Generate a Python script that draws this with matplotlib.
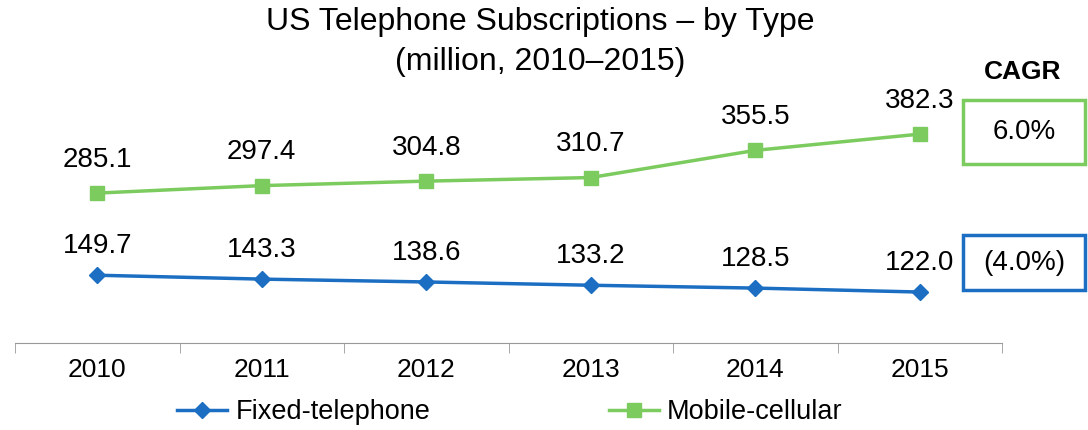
import matplotlib.pyplot as plt
from matplotlib.patches import Rectangle
from matplotlib.lines import Line2D

plt.rcParams['font.family'] = ['Liberation Sans', 'DejaVu Sans']

years = ['2010', '2011', '2012', '2013', '2014', '2015']
fixed = [149.7, 143.3, 138.6, 133.2, 128.5, 122.0]
mobile = [285.1, 297.4, 304.8, 310.7, 355.5, 382.3]
cagr_fixed = '(4.0%)'
cagr_mobile = '6.0%'

blue = '#1B6EC2'
green = '#7CCB5F'

fig = plt.figure(figsize=(10.88, 4.3), dpi=100)
ax = fig.add_axes([15 / 1088, 87 / 430, 987 / 1088, 253 / 430])

x = list(range(len(years)))
ax.plot(x, fixed, color=blue, lw=2.5, marker='D', markersize=8, zorder=3)
ax.plot(x, mobile, color=green, lw=2.5, marker='s', markersize=10, zorder=3)

for i in x:
    ax.annotate(f'{fixed[i]:.1f}', (i, fixed[i]), xytext=(0, 16), textcoords='offset points',
                ha='center', va='baseline', fontsize=20)
    ax.annotate(f'{mobile[i]:.1f}', (i, mobile[i]), xytext=(0, 19), textcoords='offset points',
                ha='center', va='baseline', fontsize=20)

ax.set_xlim(-0.5, len(years) - 0.5)
ax.set_ylim(38, 455)
ax.set_xticks(x)
ax.set_xticklabels(years, fontsize=19)
ax.set_xticks([i - 0.5 for i in range(len(years) + 1)], minor=True)
ax.tick_params(axis='x', which='major', length=0, pad=11)
ax.tick_params(axis='x', which='minor', length=7, color='#999999', direction='out')
ax.set_yticks([])
for s in ['left', 'right', 'top']:
    ax.spines[s].set_visible(False)
ax.spines['bottom'].set_color('#999999')

fig.text(540 / 1088, 1 - 22 / 430, 'US Telephone Subscriptions – by Type', ha='center', va='center', fontsize=23)
fig.text(540 / 1088, 1 - 62 / 430, '(million, 2010–2015)', ha='center', va='center', fontsize=23)
fig.text(1023 / 1088, 1 - 72 / 430, 'CAGR', ha='center', va='center', fontsize=19, fontweight='bold')

# CAGR boxes
for y0, h, col, txt in [(100, 64, green, cagr_mobile), (235, 55, blue, cagr_fixed)]:
    fig.add_artist(Rectangle((963 / 1088, 1 - (y0 + h) / 430), 122 / 1088, h / 430,
                             transform=fig.transFigure, fill=False, edgecolor=col, lw=2.5))
    fig.text(1024 / 1088, 1 - (y0 + h / 2) / 430, txt, ha='center', va='center', fontsize=20)

handles = [Line2D([], [], color=blue, lw=2.5, marker='D', markersize=8),
           Line2D([], [], color=green, lw=2.5, marker='s', markersize=10)]
fig.legend(handles, ['Fixed-telephone', 'Mobile-cellular'], loc='center',
           bbox_to_anchor=(510 / 1088, 1 - 412 / 430), ncol=2, frameon=False, fontsize=19.5,
           handlelength=1.85, handletextpad=0.3, columnspacing=6.6)

fig.savefig('out.png', dpi=100)
